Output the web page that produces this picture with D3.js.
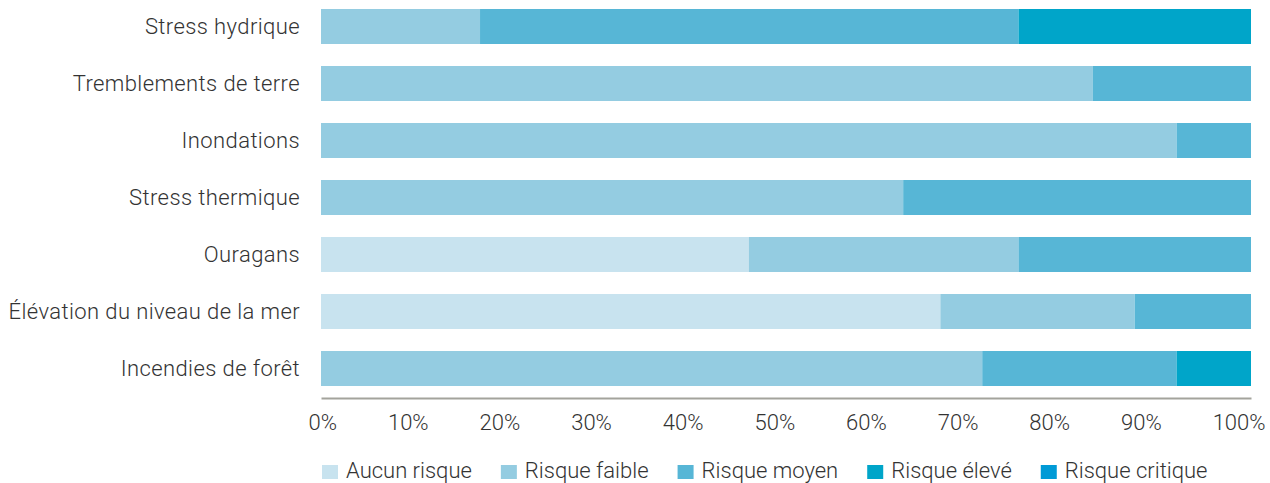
<!DOCTYPE html>
<html lang="fr">
<head>
<meta charset="UTF-8">
<title>Risques physiques</title>
<script src="https://d3js.org/d3.v7.min.js"></script>
<style>
  body { margin: 0; background: #fff; font-family: Roboto, sans-serif; }
  svg text { font-family: Roboto, sans-serif; font-weight: 300; fill: #333; }
</style>
</head>
<body>
<svg id="chart" width="1270" height="483"></svg>
<script>
// categories, top to bottom
const categories = [
  "Stress hydrique",
  "Tremblements de terre",
  "Inondations",
  "Stress thermique",
  "Ouragans",
  "Élévation du niveau de la mer",
  "Incendies de forêt"
];
const seriesNames = ["Aucun risque", "Risque faible", "Risque moyen", "Risque élevé", "Risque critique"];
const seriesColors = ["#c8e3ef", "#94cce1", "#57b6d6", "#00a5c9", "#009ad6"];

// share of each level, per category (%)
const aucun    = [0,    0,  0,  0,    46, 66.6, 0];
const faible   = [17.1, 83, 92, 62.6, 29, 20.9, 71.1];
const moyen    = [57.9, 17, 8,  37.4, 25, 12.5, 20.9];
const eleve    = [25,   0,  0,  0,    0,  0,    8];
const critique = [0,    0,  0,  0,    0,  0,    0];

const xTicks = [0, 10, 20, 30, 40, 50, 60, 70, 80, 90, 100];

const rows = categories.map((c, i) => ({
  cat: c,
  "Aucun risque": aucun[i],
  "Risque faible": faible[i],
  "Risque moyen": moyen[i],
  "Risque élevé": eleve[i],
  "Risque critique": critique[i]
}));

const svg = d3.select("#chart");
const left = 321, right = 1251;

const x = d3.scaleLinear().domain([0, 100]).range([left, right]);
const y = d3.scaleBand().domain(categories).range([-2, 397])
  .paddingInner(22 / 57).paddingOuter(11 / 57);
const color = d3.scaleOrdinal().domain(seriesNames).range(seriesColors);

const stacked = d3.stack().keys(seriesNames)(rows);

svg.append("g").selectAll("g")
  .data(stacked)
  .join("g")
  .attr("fill", d => color(d.key))
  .selectAll("rect")
  .data(d => d.filter(v => v[1] - v[0] > 0))
  .join("rect")
  .attr("x", d => x(d[0]))
  .attr("width", d => x(d[1]) - x(d[0]))
  .attr("y", d => y(d.data.cat))
  .attr("height", y.bandwidth());

// category labels
svg.append("g").selectAll("text")
  .data(categories)
  .join("text")
  .attr("x", 300)
  .attr("y", d => y(d) + y.bandwidth() / 2)
  .attr("dy", "0.35em")
  .attr("text-anchor", "end")
  .style("font-size", "22px")
  .style("letter-spacing", "0.4px")
  .text(d => d);

// x axis
const axis = svg.append("g")
  .attr("transform", "translate(0,398)")
  .call(d3.axisBottom(x).tickValues(xTicks).tickSize(0).tickPadding(16).tickFormat(d => d + "%"));
axis.select(".domain").attr("stroke", "#a3a39c").attr("stroke-width", 2);
axis.selectAll("text").style("font-size", "22px").attr("fill", "#333")
  .style("font-family", "Roboto, sans-serif").style("font-weight", 300);

// labels are spread edge to edge, like the original
const labels = axis.selectAll(".tick text").nodes();
const widths = labels.map(n => n.getComputedTextLength());
const spanL = 308, spanR = 1265;
const gap = (spanR - spanL - d3.sum(widths)) / (labels.length - 1);
let cursor = spanL;
labels.forEach((n, i) => {
  const cx = cursor + widths[i] / 2;
  const tx = x(xTicks[i]);
  d3.select(n).attr("x", cx - tx);
  cursor += widths[i] + gap;
});

// legend
const legend = svg.append("g").attr("transform", "translate(322,0)");
let lx = 0;
seriesNames.forEach(name => {
  const g = legend.append("g").attr("transform", `translate(${lx},0)`);
  g.append("rect").attr("x", 0).attr("y", 465).attr("width", 16).attr("height", 14).attr("fill", color(name));
  const t = g.append("text").attr("x", 24).attr("y", 478).style("font-size", "22px").text(name);
  lx += 24 + t.node().getComputedTextLength() + 29;
});
</script>
</body>
</html>
